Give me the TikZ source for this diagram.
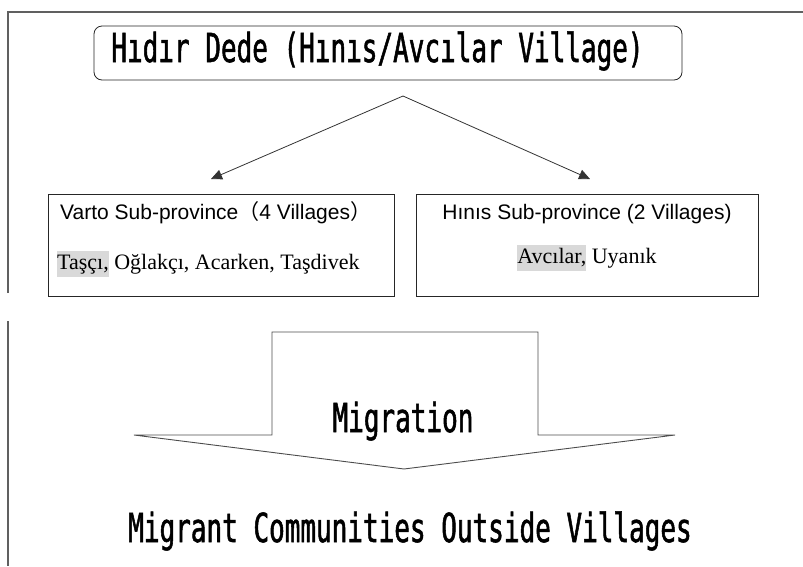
\documentclass[tikz,border=0pt]{standalone}
\usepackage{fontspec}
\setmainfont{Liberation Serif}
\newfontfamily\gothic[FakeStretch=0.65,FakeBold=1.3]{DejaVu Sans Mono}
\newfontfamily\arialf{Liberation Sans}
\newfontfamily\cjk{Noto Sans CJK JP}
\usetikzlibrary{arrows.meta}
\definecolor{hlgray}{HTML}{D9D9D9}
\definecolor{framegray}{HTML}{606060}
\newcommand{\hlbox}[1]{{\setlength{\fboxsep}{0pt}\colorbox{hlgray}{\strut #1}}}
\tikzset{
  villagebox/.style={draw=black!85, line width=0.8pt, minimum height=102pt, inner sep=0pt},
  headtext/.style={font=\arialf\fontsize{21}{25}\selectfont, inner sep=0pt},
  listtext/.style={font=\fontsize{22}{26}\selectfont, inner sep=0pt},
  gothictext/.style={font=\gothic\fontsize{40}{44}\selectfont, inner sep=0pt},
  linkarrow/.style={draw=black!80, line width=0.8pt, -{Triangle[length=11pt,width=10pt]}},
  framestyle/.style={draw=framegray, line width=1.1pt},
  blockarrow/.style={draw=black!70, line width=0.9pt}
}
\begin{document}
\begin{tikzpicture}[x=1pt,y=-1pt]
\useasboundingbox (0,0) rectangle (803,566);
% frame
\draw[framestyle] (8,293) -- (8,12) -- (803,12);
\draw[framestyle] (8,321) -- (8,566);
% top box
\node[draw=black!85, line width=0.8pt, rounded corners=8pt, minimum width=588pt, minimum height=54pt, inner sep=0pt] (top) at (388,53) {};
\node[gothictext, anchor=base] (toptext) at (377.5,62) {Hıdır Dede (Hınıs/Avcılar Village)};
% connectors
\coordinate (apex) at (403,96);
\coordinate (ltip) at (211,179);
\coordinate (rtip) at (590,179);
\draw[linkarrow] (apex) -- (ltip);
\draw[linkarrow] (apex) -- (rtip);
% village boxes
\node[villagebox, minimum width=346pt] (varto) at (221,245) {};
\node[villagebox, minimum width=342pt] (hinis) at (587,245) {};
\node[headtext, anchor=base west] (vartohead) at (60,219) {Varto Sub-province{\cjk （}4 Villages{\cjk ）}};
\node[listtext, anchor=base west] (vartolist) at (57,269) {\hlbox{Taşçı,} Oğlakçı, Acarken, Taşdivek};
\node[headtext, anchor=base] (hinishead) at (587,219) {Hınıs Sub-province (2 Villages)};
\node[listtext, anchor=base] (hinislist) at (587,263) {\hlbox{Avcılar,} Uyanık};
% block arrow
\draw[blockarrow] (272,435) -- (272,332) -- (538,332) -- (538,435) -- (675,435) -- (404,469) -- (134,435) -- cycle;
\node[gothictext, anchor=base] (migration) at (403,432) {Migration};
\node[gothictext, anchor=base] (communities) at (410,542) {Migrant Communities Outside Villages};
\end{tikzpicture}
\end{document}
